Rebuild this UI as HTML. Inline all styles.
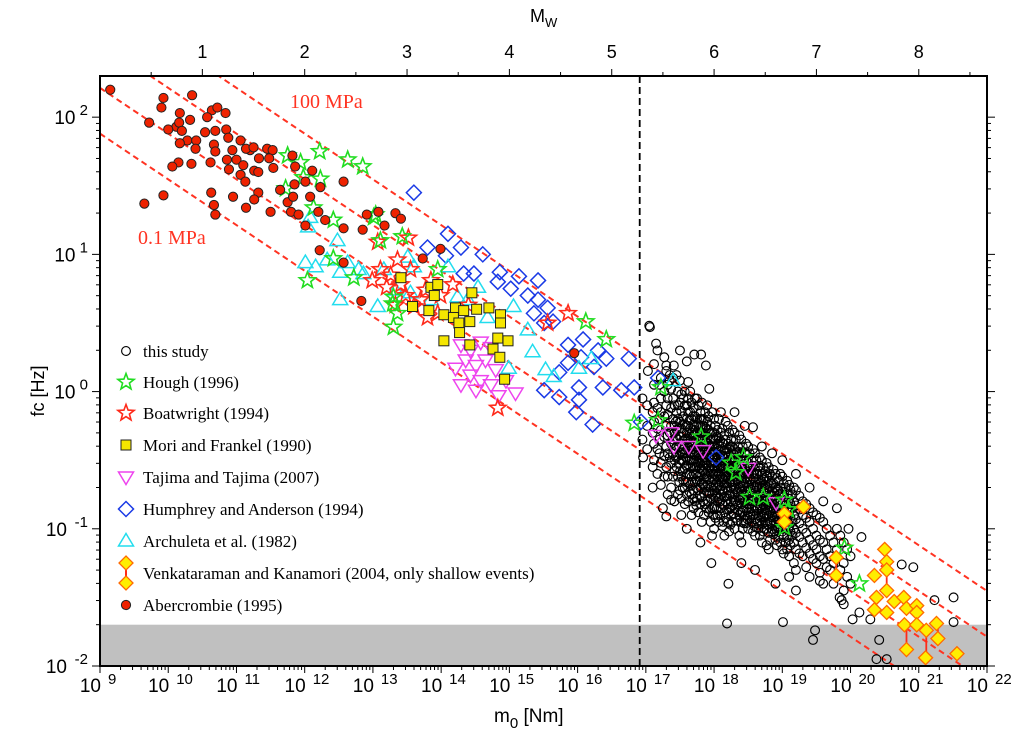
<!DOCTYPE html>
<html><head><meta charset="utf-8"><style>
html,body{margin:0;padding:0;background:#fff;}
svg{display:block;font-family:"Liberation Sans",sans-serif;}
</style></head><body>
<svg id="chart" width="1025" height="752" viewBox="0 0 1025 752" xmlns="http://www.w3.org/2000/svg">
<defs><clipPath id="clip"><rect x="100" y="76" width="887" height="590"/></clipPath></defs>
<g id="plot" clip-path="url(#clip)"></g>
<g id="axes"></g>
<g id="legend"></g>
<text x="0" y="0" transform="translate(494,722)" font-family="Liberation Sans, sans-serif" font-size="19">m<tspan font-size="15" dy="6">0</tspan><tspan dy="-6"> [Nm]</tspan></text>
<text transform="translate(44,391) rotate(-90)" text-anchor="middle" font-family="Liberation Sans, sans-serif" font-size="18">fc [Hz]</text>
<text x="530" y="22" font-family="Liberation Sans, sans-serif" font-size="18">M<tspan font-size="13" dy="5">W</tspan></text>
</svg>
<script>
// ---- axis domains (log10) ----
const xDomain = [9, 22];
const yDomain = [-2, 2.3];
const xTickExps = [9,10,11,12,13,14,15,16,17,18,19,20,21,22];
const yTickExps = [-2,-1,0,1,2];
const mwTicks = [1,2,3,4,5,6,7,8];
const stressLevels = [0.1, 1, 10, 100];
const bandTop = 0.02;
const cutoffLogM0 = 16.91;

// ---- data (log10 M0 [Nm], log10 fc [Hz]) ----
const abercrombie = [[9.15,2.20],[10.35,2.16],[9.90,2.07],[9.93,2.14],[10.17,2.03],[10.32,1.98],[10.64,2.05],[10.72,2.07],[10.84,2.03],[10.57,2.00],[10.12,1.93],[10.16,1.96],[9.72,1.96],[10.00,1.91],[10.20,1.90],[10.54,1.89],[10.69,1.90],[10.28,1.83],[10.85,1.91],[10.88,1.85],[11.06,1.83],[10.17,1.81],[10.41,1.83],[10.67,1.80],[11.20,1.76],[10.40,1.77],[10.69,1.75],[10.94,1.76],[11.14,1.77],[11.25,1.78],[11.45,1.77],[11.53,1.76],[11.48,1.70],[11.82,1.72],[10.86,1.69],[11.00,1.69],[11.33,1.70],[10.62,1.67],[11.10,1.65],[10.89,1.62],[10.34,1.66],[10.15,1.67],[10.06,1.64],[11.26,1.61],[11.54,1.63],[11.06,1.58],[11.13,1.53],[11.32,1.60],[11.86,1.64],[12.11,1.61],[12.01,1.53],[11.85,1.51],[12.23,1.49],[12.57,1.53],[11.64,1.47],[11.32,1.45],[11.26,1.40],[11.14,1.34],[10.95,1.42],[10.63,1.45],[10.67,1.36],[9.65,1.37],[9.93,1.43],[10.69,1.29],[11.50,1.31],[11.80,1.31],[11.91,1.29],[12.01,1.21],[11.75,1.38],[12.20,1.31],[12.30,1.25],[12.08,1.42],[11.83,1.42],[12.57,1.19],[12.91,1.29],[13.08,1.31],[12.22,1.03],[12.57,0.94],[13.17,1.21],[12.85,1.18],[13.33,1.30],[13.41,1.26],[12.83,0.66],[13.99,1.04],[13.73,0.97],[15.95,0.28]];
const hough = [[11.75,1.72],[12.22,1.75],[11.94,1.67],[12.63,1.69],[12.85,1.64],[11.72,1.48],[11.98,1.56],[12.23,1.55],[12.13,1.34],[12.42,1.25],[13.01,1.27],[13.11,1.10],[13.43,1.13],[12.42,0.97],[12.04,0.81],[12.72,0.83],[13.30,0.69],[13.36,0.57],[13.04,1.29],[13.95,0.89],[13.29,0.64],[13.30,0.47],[16.12,0.51],[16.42,0.38],[16.83,-0.23],[17.18,-0.21],[17.22,0.03],[17.81,-0.33],[18.25,-0.52],[18.32,-0.59],[18.43,-0.48],[18.52,-0.77],[18.72,-0.77],[19.03,-0.79],[19.09,-0.86],[19.03,-0.99],[19.91,-1.14],[20.13,-1.40]];
const boatwright = [[13.07,1.09],[13.52,1.12],[13.11,0.89],[13.26,0.85],[13.70,0.67],[13.80,0.54],[13.95,0.57],[13.60,0.62],[13.36,0.96],[12.99,0.81],[13.20,0.76],[13.41,0.78],[13.55,0.89],[13.77,0.74],[13.99,0.70],[14.17,0.78],[14.40,0.63],[14.83,-0.12],[15.56,0.50],[15.86,0.57],[13.48,0.70],[13.33,0.63],[13.85,0.81]];
const mori = [[13.41,0.83],[13.85,0.76],[13.95,0.78],[13.90,0.70],[13.58,0.62],[13.82,0.59],[14.04,0.56],[14.21,0.61],[14.33,0.59],[14.52,0.60],[14.70,0.61],[14.87,0.56],[14.18,0.54],[14.26,0.50],[14.42,0.51],[14.87,0.50],[14.45,0.72],[14.27,0.43],[14.04,0.37],[14.42,0.34],[14.83,0.39],[14.98,0.37],[14.76,0.31],[14.86,0.25],[14.93,0.09]];
const tajima = [[14.29,0.34],[14.43,0.30],[14.58,0.36],[14.73,0.32],[14.36,0.23],[14.51,0.19],[14.65,0.23],[14.80,0.16],[14.43,0.12],[14.58,0.08],[14.29,0.05],[14.73,0.05],[14.95,0.08],[15.09,-0.01],[14.21,0.17],[14.84,-0.03],[14.51,0.01],[17.15,-0.32],[17.37,-0.30],[17.41,-0.40],[17.63,-0.40],[17.84,-0.43],[18.50,-0.56],[18.91,-0.81]];
const humphrey = [[13.60,1.45],[14.10,1.15],[13.80,1.05],[14.29,1.05],[14.07,0.99],[14.61,1.00],[14.33,0.86],[14.48,0.86],[14.86,0.87],[15.14,0.84],[15.42,0.81],[14.83,0.80],[15.02,0.75],[15.27,0.70],[15.42,0.67],[15.56,0.61],[15.36,0.57],[15.51,0.50],[15.64,0.51],[15.86,0.34],[16.08,0.38],[16.05,0.25],[16.30,0.30],[16.42,0.24],[16.24,0.18],[15.86,0.21],[15.73,0.14],[16.75,0.24],[15.51,0.01],[15.73,-0.04],[16.02,0.03],[16.37,0.03],[16.64,0.01],[16.83,0.03],[16.02,-0.06],[15.98,-0.15],[16.22,-0.24],[17.18,0.10],[16.93,-0.22],[18.03,-0.48]];
const archuleta = [[12.08,1.27],[12.05,1.20],[12.48,1.10],[12.01,0.94],[12.16,0.91],[12.33,0.96],[12.63,0.94],[12.52,0.87],[12.79,0.89],[12.86,0.86],[12.52,0.67],[13.07,0.62],[13.16,0.89],[13.51,0.98],[13.60,0.91],[13.55,0.72],[14.10,0.91],[14.24,0.69],[14.39,0.67],[14.54,0.76],[14.68,0.54],[15.06,0.62],[15.27,0.45],[15.34,0.29],[14.99,0.17],[15.53,0.16],[15.65,0.11],[16.02,0.17],[16.20,0.24],[17.40,0.08],[13.33,0.74],[13.85,0.67]];
const venkataraman = [[19.31,-0.84],[19.03,-0.89],[19.03,-0.95],[19.79,-1.21],[19.79,-1.34],[20.50,-1.15],[20.53,-1.24],[20.53,-1.30],[20.35,-1.34],[20.38,-1.50],[20.53,-1.45],[20.64,-1.53],[20.78,-1.50],[20.35,-1.59],[20.53,-1.61],[20.82,-1.58],[20.97,-1.56],[20.97,-1.61],[20.79,-1.70],[20.97,-1.70],[21.26,-1.69],[21.11,-1.74],[21.28,-1.80],[20.82,-1.88],[21.10,-1.94],[21.56,-1.91]];
const venkErrors = [[20.82,-1.70,-1.88],[21.11,-1.74,-1.94],[19.79,-1.21,-1.34],[20.53,-1.24,-1.45],[21.28,-1.69,-1.80],[19.03,-0.89,-0.95]];
const studyCols = [
[16.95,[-0.05,-0.35]],[17.05,[0.48]],[17.1,[-0.15,-0.3,-0.55]],[17.2,[0.05,-0.2,-0.35,-0.45]],
[17.3,[0.15,-0.1,-0.25,-0.4,-0.55]],[17.35,[0.12,0.08,-0.3,-0.48]],[17.4,[0.1,-0.05,-0.2,-0.35,-0.45,-0.62]],
[17.45,[0.12,-0.15,-0.28,-0.4,-0.55]],[17.5,[0.08,-0.08,-0.22,-0.33,-0.45,-0.58,-0.72]],
[17.55,[-0.05,-0.18,-0.3,-0.42,-0.5,-0.65]],[17.6,[-0.1,-0.2,-0.3,-0.38,-0.48,-0.6,-0.75]],
[17.65,[0.0,-0.15,-0.27,-0.36,-0.45,-0.55,-0.68]],[17.7,[-0.12,-0.25,-0.32,-0.42,-0.5,-0.6,-0.72,-0.85]],
[17.75,[-0.05,-0.2,-0.3,-0.4,-0.47,-0.55,-0.65,-0.78]],[17.8,[-0.15,-0.25,-0.35,-0.43,-0.52,-0.6,-0.7,-0.82]],
[17.85,[-0.2,-0.3,-0.38,-0.46,-0.54,-0.63,-0.74,-0.9]],[17.9,[-0.1,-0.22,-0.33,-0.42,-0.5,-0.58,-0.68,-0.8]],
[17.95,[-0.25,-0.35,-0.44,-0.52,-0.6,-0.7,-0.78,-0.95]],[18.0,[-0.2,-0.3,-0.4,-0.48,-0.56,-0.64,-0.72,-0.85,-1.0]],
[18.05,[-0.28,-0.38,-0.46,-0.55,-0.62,-0.7,-0.8,-0.9]],[18.1,[-0.15,-0.3,-0.42,-0.5,-0.58,-0.66,-0.75,-0.85]],
[18.15,[-0.32,-0.43,-0.52,-0.6,-0.68,-0.77,-0.88,-1.05]],[18.2,[-0.25,-0.38,-0.47,-0.55,-0.63,-0.72,-0.82,-0.95]],
[18.25,[-0.35,-0.45,-0.54,-0.62,-0.7,-0.8,-0.9]],[18.3,[-0.3,-0.42,-0.5,-0.58,-0.66,-0.75,-0.85,-1.0]],
[18.35,[-0.4,-0.5,-0.6,-0.68,-0.77,-0.87]],[18.4,[-0.35,-0.47,-0.56,-0.65,-0.73,-0.82,-0.95,-1.1]],
[18.45,[-0.45,-0.55,-0.63,-0.72,-0.8,-0.9]],[18.5,[-0.4,-0.52,-0.6,-0.7,-0.78,-0.88,-1.0]],
[18.55,[-0.5,-0.6,-0.68,-0.76,-0.85,-0.95]],[18.6,[-0.45,-0.57,-0.66,-0.74,-0.83,-0.93,-1.05]],
[18.65,[-0.55,-0.64,-0.72,-0.8,-0.9,-1.0]],[18.7,[-0.5,-0.6,-0.7,-0.78,-0.87,-0.97,-1.1]],
[18.75,[-0.58,-0.68,-0.76,-0.85,-0.95]],[18.8,[-0.55,-0.65,-0.74,-0.82,-0.92,-1.03,-1.15]],
[18.85,[-0.62,-0.72,-0.8,-0.9,-1.0]],[18.9,[-0.6,-0.7,-0.78,-0.87,-0.97,-1.08]],
[18.95,[-0.65,-0.75,-0.85,-0.94,-1.05]],[19.0,[-0.62,-0.73,-0.82,-0.92,-1.02,-1.15]],
[19.05,[-0.7,-0.8,-0.9,-1.0,-1.1]],[19.1,[-0.68,-0.78,-0.88,-0.98,-1.08,-1.2]],
[19.15,[-0.75,-0.85,-0.95,-1.05]],[19.2,[-0.72,-0.83,-0.93,-1.03,-1.15,-1.3]],
[19.3,[-0.8,-0.9,-1.0,-1.1,-1.2]],[19.4,[-0.85,-0.95,-1.08,-1.18,-1.35]],[19.5,[-0.9,-1.05,-1.15,-1.25]],
[19.6,[-0.95,-1.1,-1.22,-1.4]],[19.7,[-1.05,-1.2,-1.3]],[19.8,[-1.0,-1.15,-1.35]],[19.9,[-1.1,-1.25,-1.45]],[20.0,[-1.2,-1.4]]
];
const studyCols2 = [
[17.02,[-0.1,-0.25,-0.42]],[17.12,[0.2,0.05,-0.08,-0.22,-0.38,-0.5]],[17.17,[0.3,-0.12,-0.27,-0.42,-0.6]],
[17.22,[0.1,-0.05,-0.15,-0.28,-0.52,-0.68]],[17.27,[0.25,0.0,-0.18,-0.33,-0.47,-0.62]],
[17.32,[0.05,-0.05,-0.17,-0.32,-0.45,-0.62,-0.75]],[17.37,[0.02,-0.12,-0.25,-0.38,-0.52,-0.7]],
[17.42,[-0.1,-0.25,-0.3,-0.42,-0.5,-0.58,-0.8]],[17.47,[0.0,-0.1,-0.2,-0.35,-0.47,-0.62,-0.75]],
[17.52,[-0.02,-0.14,-0.27,-0.38,-0.5,-0.62,-0.78,-0.9]],[17.57,[0.0,-0.1,-0.24,-0.35,-0.45,-0.56,-0.7,-0.82]],
[17.62,[-0.05,-0.15,-0.25,-0.34,-0.43,-0.53,-0.66,-0.8]],[17.67,[-0.08,-0.2,-0.3,-0.4,-0.5,-0.62,-0.75,-0.9]],
[17.72,[-0.05,-0.18,-0.28,-0.37,-0.46,-0.55,-0.66,-0.8]],[17.77,[-0.1,-0.24,-0.34,-0.44,-0.52,-0.62,-0.72,-0.88]],
[17.82,[-0.08,-0.2,-0.3,-0.4,-0.49,-0.57,-0.67,-0.77,-0.95]],[17.87,[-0.15,-0.26,-0.35,-0.44,-0.52,-0.6,-0.7,-0.82]],
[17.92,[-0.18,-0.28,-0.38,-0.47,-0.55,-0.64,-0.74,-0.88]],[17.97,[-0.15,-0.3,-0.4,-0.48,-0.57,-0.66,-0.75,-0.85,-1.05]],
[18.02,[-0.25,-0.35,-0.44,-0.52,-0.6,-0.68,-0.77,-0.92]],[18.07,[-0.2,-0.34,-0.43,-0.52,-0.6,-0.68,-0.78,-0.95]],
[18.12,[-0.27,-0.37,-0.47,-0.55,-0.63,-0.72,-0.82,-0.98]],[18.17,[-0.22,-0.35,-0.45,-0.53,-0.62,-0.7,-0.8,-0.92]],
[18.22,[-0.3,-0.42,-0.5,-0.59,-0.67,-0.76,-0.86,-1.02]],[18.27,[-0.28,-0.4,-0.48,-0.57,-0.65,-0.74,-0.83,-0.95]],
[18.32,[-0.35,-0.45,-0.54,-0.62,-0.71,-0.8,-0.92]],[18.37,[-0.32,-0.44,-0.53,-0.62,-0.7,-0.79,-0.9,-1.05]],
[18.42,[-0.4,-0.5,-0.59,-0.68,-0.77,-0.87,-1.0]],[18.47,[-0.38,-0.5,-0.58,-0.66,-0.75,-0.85,-0.96]],
[18.52,[-0.45,-0.55,-0.64,-0.73,-0.82,-0.92]],[18.57,[-0.42,-0.54,-0.63,-0.71,-0.8,-0.9,-1.02]],
[18.62,[-0.5,-0.6,-0.69,-0.77,-0.86,-0.96]],[18.67,[-0.48,-0.58,-0.67,-0.75,-0.84,-0.94,-1.05]],
[18.72,[-0.55,-0.64,-0.73,-0.82,-0.91,-1.02]],[18.77,[-0.52,-0.62,-0.71,-0.8,-0.89,-1.0,-1.12]],
[18.82,[-0.6,-0.69,-0.78,-0.87,-0.96,-1.08]],[18.87,[-0.57,-0.67,-0.76,-0.85,-0.94,-1.04]],
[18.92,[-0.63,-0.73,-0.82,-0.91,-1.01,-1.12]],[18.97,[-0.6,-0.7,-0.8,-0.89,-0.99,-1.1]],
[19.02,[-0.67,-0.77,-0.87,-0.96,-1.06,-1.18]],[19.07,[-0.65,-0.75,-0.85,-0.95,-1.05,-1.15]],
[19.12,[-0.72,-0.82,-0.92,-1.02,-1.12]],[19.17,[-0.7,-0.8,-0.9,-1.0,-1.1,-1.25]],
[19.25,[-0.76,-0.86,-0.96,-1.06,-1.18]],[19.35,[-0.82,-0.92,-1.03,-1.14,-1.28]],[19.45,[-0.88,-1.0,-1.12,-1.22]],
[19.55,[-0.92,-1.08,-1.2,-1.32]],[19.65,[-1.0,-1.15,-1.28]],[19.75,[-1.1,-1.25,-1.4]],[19.85,[-1.05,-1.3]],[19.95,[-1.15,-1.35]]
];
const studyCore = [
[17.44,[-0.22,-0.34,-0.48]],[17.49,[-0.27,-0.4,-0.52,-0.66]],[17.54,[-0.24,-0.36,-0.46,-0.58,-0.7]],
[17.59,[-0.25,-0.34,-0.43,-0.54,-0.66]],[17.64,[-0.21,-0.31,-0.41,-0.5,-0.6,-0.73]],
[17.69,[-0.18,-0.28,-0.37,-0.46,-0.55,-0.66,-0.78]],[17.74,[-0.25,-0.35,-0.44,-0.51,-0.6,-0.7,-0.83]],
[17.79,[-0.2,-0.3,-0.39,-0.48,-0.56,-0.65,-0.76]],[17.84,[-0.25,-0.34,-0.42,-0.5,-0.58,-0.68,-0.8]],
[17.89,[-0.27,-0.37,-0.46,-0.54,-0.63,-0.73,-0.85]],[17.94,[-0.3,-0.4,-0.48,-0.56,-0.65,-0.74,-0.86]],
[17.99,[-0.34,-0.44,-0.52,-0.6,-0.68,-0.78,-0.9]],[18.04,[-0.33,-0.42,-0.5,-0.58,-0.66,-0.75,-0.85]],
[18.09,[-0.36,-0.46,-0.54,-0.62,-0.71,-0.8,-0.9]],[18.14,[-0.38,-0.48,-0.56,-0.64,-0.73,-0.83,-0.95]],
[18.19,[-0.42,-0.51,-0.59,-0.67,-0.76,-0.86]],[18.24,[-0.4,-0.5,-0.58,-0.66,-0.75,-0.85,-0.97]],
[18.29,[-0.46,-0.54,-0.62,-0.7,-0.79,-0.89]],[18.34,[-0.44,-0.54,-0.64,-0.73,-0.82,-0.94]],
[18.39,[-0.5,-0.6,-0.69,-0.78,-0.88]],[18.44,[-0.5,-0.59,-0.67,-0.76,-0.85,-0.96]],
[18.49,[-0.55,-0.64,-0.73,-0.82,-0.93]],[18.54,[-0.55,-0.64,-0.72,-0.8,-0.9]],
[18.59,[-0.6,-0.7,-0.78,-0.87,-0.98]],[18.64,[-0.6,-0.68,-0.76,-0.85,-0.95]],
[18.69,[-0.65,-0.74,-0.83,-0.92]],[18.74,[-0.63,-0.72,-0.8,-0.9,-1.0]],[18.79,[-0.7,-0.78,-0.87,-0.97]],
[18.84,[-0.67,-0.76,-0.85,-0.95]],[18.89,[-0.74,-0.83,-0.92,-1.02]],[18.94,[-0.72,-0.8,-0.9,-1.0]]
];
const studyOutliers = [[18.19,-1.69],[19.01,-1.68],[19.45,-1.81],[19.48,-1.74],[20.03,-1.66],[20.29,-1.66],[20.42,-1.81],[20.38,-1.95],[20.53,-1.95],[21.51,-1.68],[17.06,0.47],[17.71,0.27],[17.81,0.27],[17.88,0.19],[18.57,-0.26],[17.96,-1.25],[18.21,-1.40],[21.51,-1.50],[21.23,-1.52],[20.92,-1.28],[20.75,-1.26],[20.13,-1.61],[19.97,-1.0],[20.16,-1.06],[16.96,-0.48],[17.03,0.15],[17.30,0.19],[17.41,0.19],[17.62,0.07],[17.93,0.02],[17.30,-0.91],[17.37,-0.79],[19.87,-1.52],[19.84,-1.50],[19.9,-1.55],[18.6,-1.3],[18.9,-1.4],[19.2,-1.45],[19.55,-1.38],[17.5,0.3],[17.6,0.22],[17.15,0.35],[18.3,-0.15],[18.45,-0.25],[18.7,-0.4],[18.85,-0.45],[19.0,-0.5],[19.2,-0.6],[19.4,-0.7],[19.6,-0.8],[19.8,-0.85],[17.1,-0.7],[17.25,-0.85],[17.6,-1.0],[17.8,-1.1],[18.4,-1.25],[19.1,-1.35]];

// ---- scales ----
const L=100,R=987,T=76,B=666;
const xS = v => L + (v - xDomain[0]) / (xDomain[1]-xDomain[0]) * (R-L);
const yS = v => B - (v - yDomain[0]) / (yDomain[1]-yDomain[0]) * (B-T);
const NS="http://www.w3.org/2000/svg";
function mk(tag, attrs, parent){const e=document.createElementNS(NS,tag);for(const k in attrs)e.setAttribute(k,attrs[k]);parent.appendChild(e);return e;}
const plot=document.getElementById('plot'), axes=document.getElementById('axes'), legend=document.getElementById('legend');

function starPts(cx,cy,Ro,Ri){let p=[];for(let i=0;i<10;i++){const a=-Math.PI/2+i*Math.PI/5;const r=i%2?Ri:Ro;p.push((cx+r*Math.cos(a)).toFixed(1)+','+(cy+r*Math.sin(a)).toFixed(1));}return p.join(' ');}
function drawMarker(kind,cx,cy,parent,name){
  let e;
  if(kind==='study') e=mk('circle',{cx,cy,r:4.4,fill:'none',stroke:'#000','stroke-width':1.15},parent);
  else if(kind==='aber') e=mk('circle',{cx,cy,r:4.6,fill:'#ee2200',stroke:'#222','stroke-width':1},parent);
  else if(kind==='hough') e=mk('polygon',{points:starPts(cx,cy,8.5,3.6),fill:'none',stroke:'#22dd22','stroke-width':1.6},parent);
  else if(kind==='boat') e=mk('polygon',{points:starPts(cx,cy,8.5,3.6),fill:'none',stroke:'#ff2a1a','stroke-width':1.6},parent);
  else if(kind==='mori') e=mk('rect',{x:cx-5,y:cy-5,width:10,height:10,fill:'#f5e600',stroke:'#222','stroke-width':1},parent);
  else if(kind==='tajima') e=mk('polygon',{points:`${cx-7.5},${cy-5} ${cx+7.5},${cy-5} ${cx},${cy+7.5}`,fill:'none',stroke:'#ee44ee','stroke-width':1.5},parent);
  else if(kind==='arch') e=mk('polygon',{points:`${cx-7.5},${cy+5} ${cx+7.5},${cy+5} ${cx},${cy-7.5}`,fill:'none',stroke:'#22ddee','stroke-width':1.5},parent);
  else if(kind==='hump') e=mk('polygon',{points:`${cx},${cy-7.5} ${cx+7.5},${cy} ${cx},${cy+7.5} ${cx-7.5},${cy}`,fill:'none',stroke:'#1a3ae6','stroke-width':1.5},parent);
  else if(kind==='venk') e=mk('polygon',{points:`${cx},${cy-7} ${cx+7},${cy} ${cx},${cy+7} ${cx-7},${cy}`,fill:'#ffee00',stroke:'#ff6a00','stroke-width':1.3},parent);
  
  
  return e;
}

const band=mk('rect',{x:L,y:yS(Math.log10(bandTop)),width:R-L,height:B-yS(Math.log10(bandTop)),fill:'#c0c0c0'},plot);



const baseC = 4.88;
stressLevels.forEach(s=>{
  const c = baseC + Math.log10(s/0.1)/3;
  const x0=xDomain[0], x1=xDomain[1];
  const ln=mk('line',{x1:xS(x0),y1:yS(c-x0/3),x2:xS(x1),y2:yS(c-x1/3),stroke:'#ff3322','stroke-width':2,'stroke-dasharray':'6,4'},plot);
  
  
});
const vl=mk('line',{x1:xS(cutoffLogM0),y1:T,x2:xS(cutoffLogM0),y2:B,stroke:'#000','stroke-width':1.8,'stroke-dasharray':'7,4'},plot);



function series(arr,kind,name){const g=mk('g',{},plot);arr.forEach(d=>drawMarker(kind,xS(d[0]),yS(d[1]),g,name+'-point'));}
const studyPts=[];
studyCols.forEach(c=>c[1].forEach(f=>studyPts.push([c[0],f])));
studyCols2.forEach(c=>c[1].forEach(f=>studyPts.push([c[0],f])));
studyCore.forEach(c=>c[1].forEach(f=>studyPts.push([c[0],f])));
studyOutliers.forEach(p=>studyPts.push(p));
series(studyPts,'study','this-study-series');
series(humphrey,'hump','humphrey-series');
series(archuleta,'arch','archuleta-series');
series(tajima,'tajima','tajima-series');
series(boatwright,'boat','boatwright-series');
series(mori,'mori','mori-series');
series(hough,'hough','hough-series');
const eg=mk('g',{},plot);
venkErrors.forEach(d=>{const l=mk('line',{x1:xS(d[0]),x2:xS(d[0]),y1:yS(d[1]),y2:yS(d[2]),stroke:'#ff2a1a','stroke-width':1.8},eg);});
series(venkataraman,'venk','venkataraman-series');
series(abercrombie,'aber','abercrombie-series');

const t1=mk('text',{x:290,y:108,fill:'#ff3322','font-family':'Liberation Serif, serif','font-size':20},axes);t1.textContent='100 MPa';

const t2=mk('text',{x:138,y:244,fill:'#ff3322','font-family':'Liberation Serif, serif','font-size':20},axes);t2.textContent='0.1 MPa';


const fr=mk('rect',{x:L,y:T,width:R-L,height:B-T,fill:'none',stroke:'#000','stroke-width':2},axes);

const tg=mk('g',{stroke:'#000','stroke-width':1},axes);
for(let e=xDomain[0];e<xDomain[1];e++){for(let k=1;k<10;k++){const x=xS(e+Math.log10(k));const len=k===1?7:4;mk('line',{x1:x,x2:x,y1:B,y2:B+len},tg);}}
mk('line',{x1:R,x2:R,y1:B,y2:B+7},tg);
for(let e=-2;e<3;e++){for(let k=1;k<10;k++){const v=e+Math.log10(k);if(v>yDomain[1])break;const y=yS(v);const len=k===1?8:4;mk('line',{x1:L-len,x2:L,y1:y,y2:y},tg);mk('line',{x1:R,x2:R+len,y1:y,y2:y},tg);}}
const mwToLog = m => 1.5*m + 9.0;
for(let m=0.5;m<=8.5;m+=0.5){const x=xS(mwToLog(m));if(x<L||x>R)continue;mk('line',{x1:x,x2:x,y1:T,y2:T-(m%1===0?7:4)},tg);}

xTickExps.forEach(e=>{const x=xS(e);const t=mk('text',{x:x+1,y:692,'font-size':19,'text-anchor':'end',fill:'#000'},axes);t.textContent='10';
  
  const s=mk('text',{x:x+8,y:684,'font-size':15,fill:'#000'},axes);s.textContent=String(e);
  });
yTickExps.forEach(e=>{const y=yS(e);const s=mk('text',{x:88,y:y-2,'font-size':15,'text-anchor':'end',fill:'#000'},axes);s.textContent=String(e);
  
  const w=String(e).length*8.5+4;
  const t=mk('text',{x:88-w,y:y+7,'font-size':19,'text-anchor':'end',fill:'#000'},axes);t.textContent='10';
  });
mwTicks.forEach(m=>{const t=mk('text',{x:xS(mwToLog(m)),y:58,'font-size':18,'text-anchor':'middle',fill:'#000'},axes);t.textContent=String(m);
  });

const legendItems=[['study','this study'],['hough','Hough (1996)'],['boat','Boatwright (1994)'],['mori','Mori and Frankel (1990)'],['tajima','Tajima and Tajima (2007)'],['hump','Humphrey and Anderson (1994)'],['arch','Archuleta et al. (1982)'],['venk','Venkataraman and Kanamori (2004, only shallow events)'],['aber','Abercrombie (1995)']];
const legendY=[351,382,413,445,477,509,541,573,605];
legendItems.forEach((it,i)=>{const g=mk('g',{},legend);
  const y=legendY[i];
  if(it[0]==='venk'){const l=mk('line',{x1:126,x2:126,y1:y-10,y2:y+10,stroke:'#ff2a1a','stroke-width':2},g);drawMarker('venk',126,y-10,g,'legend-marker');drawMarker('venk',126,y+10,g,'legend-marker');}
  else drawMarker(it[0],126,y,g,'legend-marker');
  const t=mk('text',{x:143,y:y+6,'font-family':'Liberation Serif, serif','font-size':17,fill:'#000'},g);t.textContent=it[1];
  });
</script>
</body></html>
